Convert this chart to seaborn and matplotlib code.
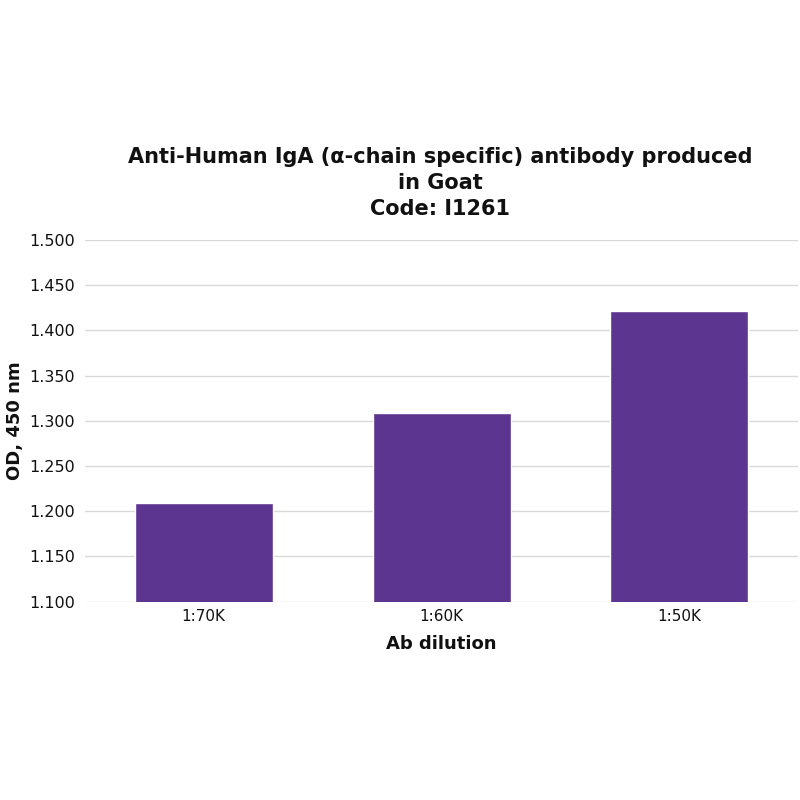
import matplotlib
matplotlib.use("Agg")
import matplotlib.pyplot as plt
import pandas as pd
import seaborn as sns

# 数据
dilutions = ["1:70K", "1:60K", "1:50K"]
od_values = [1.209, 1.309, 1.421]
y_ticks = [1.100, 1.150, 1.200, 1.250, 1.300, 1.350, 1.400, 1.450, 1.500]

df = pd.DataFrame({"dilution": dilutions, "od": od_values})

sns.set_style("white")
plt.rcParams['font.family'] = ['DejaVu Sans']

fig = plt.figure(figsize=(8, 8), dpi=100)
ax = fig.add_axes([0.106, 0.248, 0.892, 0.452])

sns.barplot(data=df, x="dilution", y="od", color="#5B3590", saturation=1,
            width=0.58, ax=ax, zorder=3)

ax.set_ylim(1.1, 1.5)
ax.set_xlim(-0.5, 2.5)
ax.set_yticks(y_ticks)
ax.set_yticklabels([f"{v:.3f}" for v in y_ticks], fontsize=11.5, color="#111111")
ax.tick_params(axis="x", labelsize=11, length=0, pad=5, labelcolor="#111111")
ax.tick_params(axis="y", length=0, pad=7)
ax.grid(axis="y", color="#d9d9d9", linewidth=1, zorder=0)
for s in ax.spines.values():
    s.set_visible(False)

ax.set_xlabel("Ab dilution", fontsize=13, fontweight="bold", labelpad=8, color="#111111")
ax.set_ylabel("OD, 450 nm", fontsize=13, fontweight="bold", labelpad=4, color="#111111")

fig.text(0.55, 0.771, "Anti-Human IgA (\u03b1-chain specific) antibody produced\nin Goat\nCode: I1261",
         ha="center", va="center", fontsize=15, fontweight="bold", linespacing=1.37,
         color="#111111")

fig.savefig("out.png", dpi=100)
